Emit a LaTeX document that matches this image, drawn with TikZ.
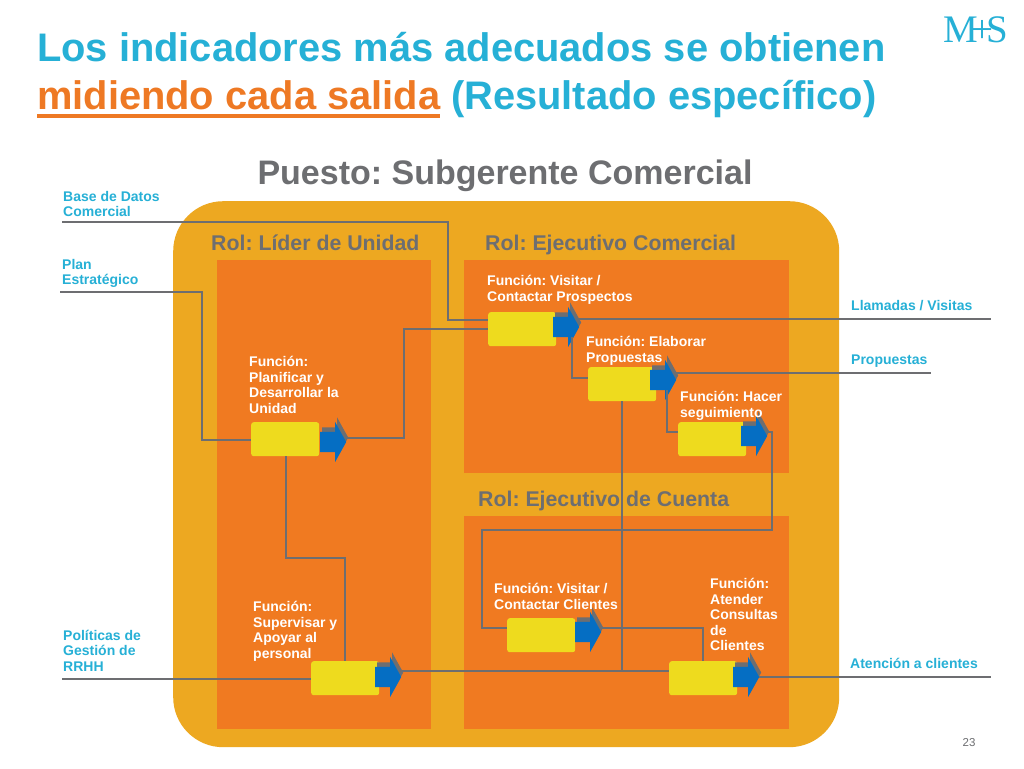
\documentclass[tikz,border=0pt]{standalone}
\usepackage{fontspec}
\setmainfont{Liberation Sans}
\newfontfamily\logofont{Liberation Serif}
\usepackage{tikz}
\usetikzlibrary{shapes.arrows}
\usetikzlibrary{shadows}
\definecolor{mycyan}{RGB}{38,176,214}
\definecolor{mytitleorange}{RGB}{238,121,36}
\definecolor{myamber}{RGB}{237,168,33}
\definecolor{myorange}{RGB}{240,122,33}
\definecolor{myyellow}{RGB}{238,219,30}
\definecolor{myblue}{RGB}{5,110,195}
\definecolor{mygray}{RGB}{109,110,113}
\newcommand{\widthbox}{68pt}
\newcommand{\heightbox}{34pt}
\tikzset{
    titletext/.style={anchor=base west, inner sep=0pt, font=\fontsize{39.85}{40}\selectfont\bfseries, text=mycyan},
    roltext/.style={anchor=base west, inner sep=0pt, font=\fontsize{21.3}{22}\selectfont\bfseries, text=mygray},
    functext/.style={anchor=north west, inner sep=0pt, align=left, text=white, font=\fontsize{14}{15.5}\selectfont\bfseries},
    iotext/.style={anchor=north west, inner sep=0pt, align=left, text=mycyan, font=\fontsize{14}{15.5}\selectfont\bfseries},
    panel/.style={fill=myorange, anchor=north west, inner sep=0pt},
    funcbox/.style={fill=myyellow, rounded corners=2.5pt, minimum width=\widthbox, minimum height=\heightbox, inner sep=0pt, anchor=north west},
    funcarrow/.style={single arrow, fill=myblue, inner xsep=0pt, inner ysep=10pt, anchor=west, minimum width=40pt, minimum height=26pt,
        single arrow head extend=10pt, single arrow tip angle=122,
        general shadow={fill=mygray, shadow xshift=2pt, shadow yshift=4.5pt}},
    link/.style={draw=mygray, line width=1.5pt}
}
\begin{document}
\frenchspacing
\begin{tikzpicture}[x=1pt, y=-1pt]
    \useasboundingbox[fill=white] (0,0) rectangle (1024,768);

    % title
    \node[titletext] (title-top) at (37,62) {Los indicadores más adecuados se obtienen};
    \node[titletext, text=mytitleorange] (title-key) at (37,109.5) {midiendo cada salida};
    \node[titletext] (title-rest) at (451,109.5) {(Resultado específico)};
    \draw[mytitleorange, line width=4pt] ([yshift=-6.5pt]title-key.base west) -- ([yshift=-6.5pt]title-key.base east);
    \node[anchor=base, inner sep=0pt, text=mycyan, font=\fontsize{39}{39}\selectfont\logofont] (logo) at (976,43) {M\kern-7pt+\kern-7pt S};
    \node[anchor=base, inner sep=0pt, font=\fontsize{34}{34}\selectfont\bfseries, text=mygray] (puesto) at (505,184) {Puesto: Subgerente Comercial};

    % panels
    \node[panel, fill=myamber, rounded corners=50pt, minimum width=666pt, minimum height=546pt] (outer) at (173,201) {};
    \node[panel, minimum width=214pt, minimum height=469pt] (lider) at (217,260) {};
    \node[panel, minimum width=325pt, minimum height=213pt] (comercial) at (464,260) {};
    \node[panel, minimum width=325pt, minimum height=213pt] (cuenta) at (464,516) {};

    \node[roltext] (rol-lider) at (211,250) {Rol: Líder de Unidad};
    \node[roltext] (rol-comercial) at (485,250) {Rol: Ejecutivo Comercial};
    \node[roltext] (rol-cuenta) at (478,506.5) {Rol: Ejecutivo de Cuenta};

    % boxes and their arrows
    \node[funcbox] (planificar) at (251,422) {};
    \node[funcbox] (supervisar) at (311,661) {};
    \node[funcbox] (prospectos) at (488,312) {};
    \node[funcbox] (propuestas) at (588,367) {};
    \node[funcbox] (seguimiento) at (678,422) {};
    \node[funcbox] (clientes) at (507,618) {};
    \node[funcbox] (consultas) at (669,661) {};

    \node[funcarrow] (planificar-arrow) at (320,442) {};
    \node[funcarrow] (supervisar-arrow) at (375,677) {};
    \node[funcarrow] (prospectos-arrow) at (553,327) {};
    \node[funcarrow] (propuestas-arrow) at (650,380) {};
    \node[funcarrow] (seguimiento-arrow) at (741,436) {};
    \node[funcarrow] (clientes-arrow) at (575,632) {};
    \node[funcarrow] (consultas-arrow) at (733,677) {};

    % free ends
    \coordinate (in-base) at (62,222);
    \coordinate (in-plan) at (60,292);
    \coordinate (in-politicas) at (62,679);
    \coordinate (out-llamadas) at (991,319);
    \coordinate (out-propuestas) at (931,373);
    \coordinate (out-atencion) at (991,677);

    % connectors
    \draw[link] (in-base) -| (448,320) -- (prospectos.west |- 0,320);
    \draw[link] (in-plan) -| (202,440) -- (planificar.west |- 0,440);
    \draw[link] (in-politicas) -- (supervisar.west |- 0,679);
    \draw[link] (planificar.south -| 286,0) |- (345,558) -- (supervisar.north -| 345,0);
    \draw[link] (propuestas.south -| 622,0) -- (622,671);
    \draw[link] (prospectos-arrow.south -| 572,0) |- (propuestas.west |- 0,378);
    \draw[link] (propuestas-arrow.south -| 667,0) |- (seguimiento.west |- 0,432);
    \draw[link] (supervisar-arrow.tip |- 0,671) -- (consultas.west |- 0,671);
    \draw[link] (planificar-arrow.tip |- 0,438) -| (404,329) -- (prospectos.west |- 0,329);
    \draw[link] (prospectos-arrow.tip |- out-llamadas) -- (out-llamadas);
    \draw[link] (propuestas-arrow.tip |- out-propuestas) -- (out-propuestas);
    \draw[link] (seguimiento-arrow.tip |- 0,432) -| (772,530) -| (482,628) -- (clientes.west |- 0,628);
    \draw[link] (clientes-arrow.tip |- 0,628) -| (consultas.north -| 703,0);
    \draw[link] (consultas-arrow.tip |- out-atencion) -- (out-atencion);

    % labels
    \node[functext] (text-planificar) at (249,356.5) {Función:\\Planificar y\\Desarrollar la\\Unidad};
    \node[functext] (text-supervisar) at (253,601.5) {Función:\\Supervisar y\\Apoyar al\\personal};
    \node[functext] (text-prospectos) at (487,275.5) {Función: Visitar /\\Contactar Prospectos};
    \node[functext] (text-propuestas) at (586,336.5) {Función: Elaborar\\Propuestas};
    \node[functext] (text-seguimiento) at (680,391.5) {Función: Hacer\\seguimiento};
    \node[functext] (text-clientes) at (494,583.5) {Función: Visitar /\\Contactar Clientes};
    \node[functext] (text-consultas) at (710,578.5) {Función:\\Atender\\Consultas\\de\\Clientes};

    \node[iotext] (text-base) at (63,191) {Base de Datos\\Comercial};
    \node[iotext] (text-plan) at (62,259) {Plan\\Estratégico};
    \node[iotext] (text-politicas) at (63,630) {Políticas de\\Gestión de\\RRHH};
    \node[iotext] (text-llamadas) at (851,300) {Llamadas / Visitas};
    \node[iotext] (text-propuestas-out) at (851,355) {Propuestas};
    \node[iotext] (text-atencion) at (850,658) {Atención a clientes};
    \node[anchor=base, inner sep=0pt, text=mygray, font=\fontsize{11.5}{12}\selectfont] (page) at (969,746) {23};
\end{tikzpicture}
\end{document}
